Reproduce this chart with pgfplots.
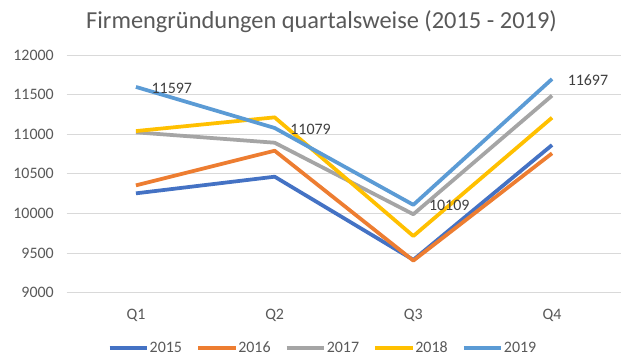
\documentclass[border=0pt]{standalone}
\usepackage{fontspec}
\setmainfont{Carlito}
\usepackage{pgfplots}
\pgfplotsset{compat=1.18}
\definecolor{c15}{HTML}{4472C4}
\definecolor{c16}{HTML}{ED7D31}
\definecolor{c17}{HTML}{A5A5A5}
\definecolor{c18}{HTML}{FFC000}
\definecolor{c19}{HTML}{5B9BD5}
\definecolor{txtgray}{HTML}{595959}
\definecolor{labgray}{HTML}{404040}
\definecolor{gridgray}{HTML}{D9D9D9}
\begin{document}
\begin{tikzpicture}
\fill[white] (0bp,0bp) rectangle (640bp,360bp);
\node[anchor=base, font=\fontsize{24.5}{29}\selectfont, text=txtgray] at (321.5bp,331.7bp) {Firmengründungen quartalsweise (2015 - 2019)};
\begin{axis}[
  at={(66.6bp,67.3bp)}, anchor=south west, scale only axis,
  width=554.8bp, height=237.7bp,
  xmin=-0.5, xmax=3.5, ymin=9000, ymax=12000,
  ytick={9000,9500,10000,10500,11000,11500,12000},
  scaled y ticks=false,
  xtick={0,1,2,3}, xticklabels={Q1,Q2,Q3,Q4},
  axis line style={draw=none}, major tick length=0pt,
  ymajorgrids, grid style={color=gridgray, line width=0.8bp},
  tick label style={font=\fontsize{16}{19}\selectfont, text=txtgray},
  yticklabel style={xshift=-9.3bp},
  xticklabel style={anchor=base, yshift=-26.3bp},
  /pgf/number format/assume math mode=true,
  /pgf/number format/1000 sep={},
  clip=false,
  legend columns=5,
  legend style={draw=none, fill=none, at={(0.461,-0.2326)}, anchor=center,
    font=\fontsize{16}{19}\selectfont, text=txtgray,
    nodes={inner sep=0.8bp},
    /tikz/every even column/.append style={column sep=13.4bp}},
  legend image code/.code={\draw[#1, line width=3.75bp] (0pt,0pt) -- (37.5bp,0pt);},
  every axis plot/.append style={line width=3.75bp, line join=round, no markers},
]
\addplot[c15] coordinates {(0,10254) (1,10464) (2,9415) (3,10864)};
\addlegendentry{2015}
\addplot[c16] coordinates {(0,10355) (1,10792) (2,9405) (3,10759)};
\addlegendentry{2016}
\addplot[c17] coordinates {(0,11024) (1,10893) (2,9990) (3,11488)};
\addlegendentry{2017}
\addplot[c18] coordinates {(0,11040) (1,11213) (2,9715) (3,11209)};
\addlegendentry{2018}
\addplot[c19, nodes near coords,
  every node near coord/.append style={anchor=west, xshift=10.5bp, yshift=-1bp, font=\fontsize{16}{19}\selectfont, text=labgray}]
  coordinates {(0,11597) (1,11079) (2,10109) (3,11697)};
\addlegendentry{2019}
\end{axis}
\pgfresetboundingbox
\useasboundingbox (0bp,0bp) rectangle (640bp,360bp);
\end{tikzpicture}
\end{document}
